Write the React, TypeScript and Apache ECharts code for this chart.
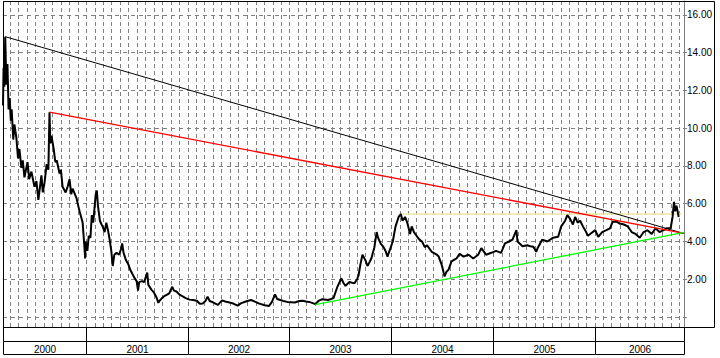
import React, { useEffect, useRef } from 'react';
import * as echarts from 'echarts';

const X_MIN = '2000-03-08';
const X_MAX = '2006-11-18';
const Y_MIN = -0.53;
const Y_MAX = 16.74;

const prices2000: [string, number][] = [
  ['2000-03-08', 11.2], ['2000-03-10', 13.2], ['2000-03-13', 12.2], ['2000-03-16', 14.85], ['2000-03-20', 12.3],
  ['2000-03-24', 13.4], ['2000-03-28', 11.0], ['2000-04-01', 11.6], ['2000-04-05', 10.4], ['2000-04-08', 11.0],
  ['2000-04-14', 9.4], ['2000-04-18', 10.2], ['2000-04-25', 9.5], ['2000-05-01', 8.4], ['2000-05-06', 8.9],
  ['2000-05-13', 7.9], ['2000-05-18', 8.3], ['2000-05-24', 7.4], ['2000-06-04', 8.2], ['2000-06-10', 7.3],
  ['2000-06-18', 7.7], ['2000-06-29', 6.9], ['2000-07-06', 7.2], ['2000-07-13', 6.2], ['2000-07-24', 7.5],
  ['2000-07-29', 6.6], ['2000-08-04', 7.1], ['2000-08-12', 8.1], ['2000-08-18', 7.8], ['2000-08-22', 10.85],
  ['2000-08-25', 9.2], ['2000-08-29', 9.6], ['2000-09-06', 8.9], ['2000-09-12', 8.2], ['2000-09-17', 8.3],
  ['2000-09-27', 7.6], ['2000-10-02', 7.8], ['2000-10-08', 6.9], ['2000-10-19', 6.6], ['2000-10-26', 6.9],
  ['2000-11-02', 7.3], ['2000-11-08', 6.5], ['2000-11-13', 6.8], ['2000-11-27', 6.3], ['2000-12-03', 5.9],
  ['2000-12-08', 5.6], ['2000-12-19', 5.0], ['2000-12-26', 3.6], ['2000-12-28', 3.1], ['2000-12-30', 4.0],
];

const prices2001: [string, number][] = [
  ['2001-01-05', 3.5], ['2001-01-10', 4.3], ['2001-01-16', 4.2], ['2001-01-21', 5.4], ['2001-01-26', 5.0],
  ['2001-02-04', 6.5], ['2001-02-08', 6.7], ['2001-02-12', 5.9], ['2001-02-19', 5.1], ['2001-02-25', 4.9],
  ['2001-03-01', 4.8], ['2001-03-08', 4.5], ['2001-03-14', 5.0], ['2001-03-20', 4.6], ['2001-03-25', 4.2],
  ['2001-04-01', 3.5], ['2001-04-06', 2.7], ['2001-04-12', 3.3], ['2001-04-20', 3.4], ['2001-04-29', 3.3],
  ['2001-05-06', 3.6], ['2001-05-10', 3.9], ['2001-05-15', 3.4], ['2001-05-24', 3.0], ['2001-06-01', 2.8],
  ['2001-06-08', 2.5], ['2001-06-15', 2.3], ['2001-06-22', 2.1], ['2001-07-01', 1.9], ['2001-07-06', 1.4],
  ['2001-07-10', 1.85], ['2001-07-20', 1.9], ['2001-07-28', 1.85], ['2001-08-08', 2.35], ['2001-08-12', 1.7],
  ['2001-08-23', 1.45], ['2001-09-01', 1.3], ['2001-09-10', 1.05], ['2001-09-17', 0.75], ['2001-09-21', 0.85],
  ['2001-09-30', 1.0], ['2001-10-08', 1.1], ['2001-10-20', 1.2], ['2001-10-26', 1.25], ['2001-11-06', 1.6],
  ['2001-11-12', 1.4], ['2001-11-21', 1.35], ['2001-12-01', 1.2], ['2001-12-12', 1.1], ['2001-12-24', 1.0],
];

const prices2002: [string, number][] = [
  ['2002-01-07', 0.92], ['2002-01-20', 0.9], ['2002-02-02', 0.86], ['2002-02-13', 0.7], ['2002-02-24', 0.72],
  ['2002-03-05', 0.85], ['2002-03-13', 1.08], ['2002-03-20', 0.85], ['2002-04-01', 0.78], ['2002-04-19', 0.64],
  ['2002-05-04', 0.88], ['2002-05-15', 0.82], ['2002-06-03', 0.76], ['2002-06-15', 0.7], ['2002-06-29', 0.6],
  ['2002-07-10', 0.72], ['2002-07-28', 0.82], ['2002-08-16', 0.9], ['2002-09-01', 0.8], ['2002-09-12', 0.72],
  ['2002-10-04', 0.62], ['2002-10-19', 0.58], ['2002-10-30', 0.8], ['2002-11-10', 1.2], ['2002-11-18', 0.95],
  ['2002-11-29', 0.9], ['2002-12-10', 0.85], ['2002-12-24', 0.8],
];

const prices2003: [string, number][] = [
  ['2003-01-20', 0.77], ['2003-02-05', 0.85], ['2003-02-17', 0.86], ['2003-03-01', 0.82], ['2003-03-13', 0.8],
  ['2003-04-04', 0.68], ['2003-04-15', 0.85], ['2003-04-29', 0.94], ['2003-05-20', 0.9], ['2003-06-08', 1.0],
  ['2003-06-15', 1.3], ['2003-06-22', 1.6], ['2003-07-06', 2.05], ['2003-07-14', 1.8], ['2003-07-21', 1.65],
  ['2003-08-04', 1.85], ['2003-08-22', 1.78], ['2003-09-01', 2.0], ['2003-09-06', 2.2], ['2003-09-13', 2.8],
  ['2003-09-20', 3.3], ['2003-10-01', 3.0], ['2003-10-08', 2.7], ['2003-10-12', 2.8], ['2003-10-22', 3.1],
  ['2003-11-02', 3.7], ['2003-11-10', 4.5], ['2003-11-15', 4.2], ['2003-11-24', 3.9], ['2003-12-05', 3.7],
  ['2003-12-12', 3.5], ['2003-12-19', 3.2],
];

const prices2004: [string, number][] = [
  ['2004-01-07', 4.0], ['2004-01-17', 4.8], ['2004-01-28', 5.3], ['2004-02-05', 5.45], ['2004-02-11', 5.1],
  ['2004-02-20', 5.3], ['2004-02-28', 5.0], ['2004-03-09', 4.4], ['2004-03-15', 4.8], ['2004-03-23', 4.5],
  ['2004-04-04', 4.25], ['2004-04-12', 4.1], ['2004-04-21', 4.0], ['2004-05-01', 3.7], ['2004-05-09', 3.8],
  ['2004-05-26', 3.45], ['2004-06-13', 3.3], ['2004-06-20', 3.2], ['2004-07-01', 2.75], ['2004-07-11', 2.15],
  ['2004-07-18', 2.4], ['2004-07-25', 2.5], ['2004-08-05', 2.95], ['2004-08-23', 3.1], ['2004-09-03', 3.35],
  ['2004-09-17', 3.2], ['2004-10-05', 3.3], ['2004-10-22', 3.1], ['2004-11-09', 3.3], ['2004-11-20', 3.65],
  ['2004-12-07', 3.3], ['2004-12-26', 3.4],
];

const prices2005: [string, number][] = [
  ['2005-01-12', 3.5], ['2005-01-30', 3.4], ['2005-02-13', 3.9], ['2005-02-27', 4.0], ['2005-03-12', 4.1],
  ['2005-03-26', 4.6], ['2005-03-30', 4.0], ['2005-04-17', 3.75], ['2005-05-04', 3.8], ['2005-05-15', 3.75],
  ['2005-05-26', 3.72], ['2005-06-05', 3.45], ['2005-06-10', 3.64], ['2005-06-27', 4.1], ['2005-07-15', 4.0],
  ['2005-08-05', 4.2], ['2005-08-23', 4.25], ['2005-09-03', 4.8], ['2005-09-17', 5.1], ['2005-09-25', 5.4],
  ['2005-10-05', 5.2], ['2005-10-15', 4.9], ['2005-10-23', 5.3], ['2005-11-01', 5.0], ['2005-11-10', 5.1],
  ['2005-11-20', 4.8], ['2005-11-28', 4.6], ['2005-12-08', 4.3], ['2005-12-16', 4.4],
];

const prices2006: [string, number][] = [
  ['2006-01-03', 4.6], ['2006-01-14', 4.25], ['2006-01-28', 4.5], ['2006-02-12', 4.6], ['2006-02-25', 4.7],
  ['2006-03-07', 5.05], ['2006-03-21', 5.05], ['2006-04-01', 4.95], ['2006-04-16', 4.9], ['2006-04-30', 4.8],
  ['2006-05-14', 4.5], ['2006-05-28', 4.4], ['2006-06-12', 4.2], ['2006-06-26', 4.5], ['2006-07-10', 4.6],
  ['2006-07-25', 4.4], ['2006-08-08', 4.7], ['2006-08-22', 4.5], ['2006-09-06', 4.6], ['2006-09-17', 4.7],
  ['2006-10-01', 4.7], ['2006-10-08', 5.3], ['2006-10-13', 6.1], ['2006-10-17', 5.6], ['2006-10-22', 5.9],
  ['2006-10-30', 5.3],
];

const trendBlack: [string, number][] = [['2000-03-16', 14.85], ['2006-11-18', 4.42]];
const trendRed: [string, number][] = [['2000-08-22', 10.85], ['2006-11-18', 4.43]];
const trendGreen: [string, number][] = [['2003-04-04', 0.65], ['2006-11-18', 4.48]];
const trendYellow: [string, number][] = [['2004-02-11', 5.46], ['2006-11-08', 5.46]];

const yearLabels = ['2000', '2001', '2002', '2003', '2004', '2005', '2006'];

const FONT = "'Liberation Sans', Arial, sans-serif";

function toTime(s: string): number {
  const [y, m, d] = s.split('-').map(Number);
  return new Date(y, m - 1, d).getTime();
}

export default function App() {
  const ref = useRef<HTMLDivElement>(null);

  useEffect(() => {
    if (!ref.current) return;
    const chart = echarts.init(ref.current, null, { renderer: 'svg' });
    const minT = toTime(X_MIN);
    const maxT = toTime(X_MAX);
    const conv = (arr: [string, number][]) => arr.map(([d, v]) => [toTime(d), v]);
    const prices = [
      ...prices2000, ...prices2001, ...prices2002, ...prices2003,
      ...prices2004, ...prices2005, ...prices2006,
    ];
    const yearBoxes = yearLabels.map((y) => {
      const yr = Number(y);
      return [
        Math.max(minT, new Date(yr, 0, 1).getTime()),
        Math.min(maxT, new Date(yr + 1, 0, 1).getTime()),
        0,
      ];
    });

    // month-start ticks for the vertical grid
    const monthTicks: number[][] = [];
    {
      const start = new Date(minT);
      let y = start.getFullYear();
      let m = start.getMonth() + 1;
      for (;;) {
        if (m > 11) { m = 0; y += 1; }
        const t = new Date(y, m, 1).getTime();
        if (t >= maxT) break;
        monthTicks.push([t, 0]);
        m += 1;
      }
    }

    const trend = (data: [string, number][], color: string, width: number, z: number) => ({
      type: 'line',
      xAxisIndex: 0,
      yAxisIndex: 0,
      data: conv(data),
      symbol: 'none',
      showSymbol: false,
      silent: true,
      z,
      lineStyle: { color, width },
    });

    chart.setOption({
      animation: false,
      backgroundColor: '#ffffff',
      grid: [
        { left: 3, right: 36, top: 1, bottom: 31, show: false },
        { left: 3, right: 36, top: 327, height: 27, show: false },
      ],
      xAxis: [
        {
          type: 'time',
          gridIndex: 0,
          min: minT,
          max: maxT,
          axisLine: { show: false },
          axisTick: { show: false },
          axisLabel: { show: false },
          splitLine: { show: false },
        },
        { type: 'time', gridIndex: 1, min: minT, max: maxT, show: false },
      ],
      yAxis: [
        {
          type: 'value',
          gridIndex: 0,
          position: 'right',
          min: Y_MIN,
          max: Y_MAX,
          splitNumber: 8,
          axisLine: { show: true, lineStyle: { color: '#808080', width: 1 } },
          axisTick: { show: true, length: 3, lineStyle: { color: '#808080' } },
          axisLabel: {
            margin: 3,
            fontSize: 10,
            fontFamily: FONT,
            color: '#000000',
            formatter: (v: number) => {
              const r = Math.round(v / 2) * 2;
              return v >= 1.99 && Math.abs(v - r) < 1e-6 ? v.toFixed(2) : '';
            },
          },
          splitLine: { show: true, lineStyle: { color: '#808080', width: 1, type: [4, 4] } },
        },
        { type: 'value', gridIndex: 1, min: 0, max: 2, show: false },
      ],
      series: [
        {
          type: 'custom',
          xAxisIndex: 0,
          yAxisIndex: 0,
          data: monthTicks,
          silent: true,
          z: 0,
          renderItem: (params: any, api: any) => {
            const t = api.value(0);
            const p0 = api.coord([t, Y_MAX]);
            const p1 = api.coord([t, Y_MIN]);
            const x = Math.round(p0[0]) + 0.5;
            return {
              type: 'line',
              shape: { x1: x, y1: p0[1], x2: x, y2: p1[1] },
              style: { stroke: '#808080', lineWidth: 1, lineDash: [4, 3] },
            };
          },
        },
        trend(trendYellow, '#ece6a0', 1.5, 2),
        {
          type: 'line',
          xAxisIndex: 0,
          yAxisIndex: 0,
          data: conv(prices),
          symbol: 'none',
          showSymbol: false,
          silent: true,
          z: 3,
          lineStyle: { color: '#000000', width: 2 },
        },
        trend(trendBlack, '#000000', 1, 4),
        trend(trendRed, '#ff0000', 1.3, 4),
        trend(trendGreen, '#00ff00', 1.3, 4),
        {
          type: 'custom',
          xAxisIndex: 1,
          yAxisIndex: 1,
          data: yearBoxes,
          encode: { x: [0, 1], y: 2 },
          silent: true,
          renderItem: (params: any, api: any) => {
            const s = api.value(0);
            const e = api.value(1);
            const a = api.coord([s, 2]);
            const b = api.coord([e, 1]);
            const c = api.coord([e, 0]);
            const x0 = Math.round(a[0]) + 0.5;
            const x1 = Math.round(b[0]) + 0.5;
            const yTop = Math.round(a[1]) + 0.5;
            const yMid = Math.round(b[1]) + 0.5;
            const yBot = Math.round(c[1]) + 0.5;
            const boxStyle = { fill: 'none', stroke: '#000000', lineWidth: 1 };
            return {
              type: 'group',
              children: [
                { type: 'rect', shape: { x: x0, y: yTop, width: x1 - x0, height: yMid - yTop }, style: boxStyle },
                { type: 'rect', shape: { x: x0, y: yMid, width: x1 - x0, height: yBot - yMid }, style: boxStyle },
                {
                  type: 'text',
                  style: {
                    text: yearLabels[params.dataIndex],
                    x: (x0 + x1) / 2,
                    y: (yMid + yBot) / 2 + 1,
                    align: 'center',
                    verticalAlign: 'middle',
                    fontSize: 10,
                    fontFamily: FONT,
                    fill: '#000000',
                  },
                },
              ],
            };
          },
        },
      ],
      graphic: [
        {
          type: 'rect',
          z: 100,
          silent: true,
          shape: { x: 3.5, y: 1.5, width: 711, height: 326 },
          style: { fill: 'none', stroke: '#000000', lineWidth: 1 },
        },
      ],
    });

    return () => chart.dispose();
  }, []);

  return (
    <div
      ref={ref}
      style={{ position: 'absolute', left: 0, top: 0, width: 720, height: 358, background: '#ffffff' }}
    />
  );
}
